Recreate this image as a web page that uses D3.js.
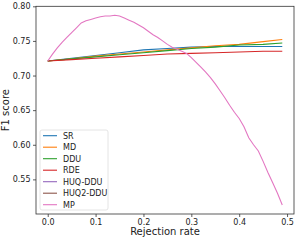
<!DOCTYPE html>
<html>
<head>
<meta charset="utf-8">
<script src="https://cdn.jsdelivr.net/npm/d3@7"></script>
<style>
  body { margin: 0; background: #fff; }
  svg { display: block; font-family: "DejaVu Sans", sans-serif; }
</style>
</head>
<body>
<svg id="chart"></svg>
<script>
// rejection rates for MP (every 0.01)
var ratesFine = [0.00,0.01,0.02,0.03,0.04,0.05,0.06,0.07,0.08,0.09,
                 0.10,0.11,0.12,0.13,0.14,0.15,0.16,0.17,0.18,0.19,
                 0.20,0.21,0.22,0.23,0.24,0.25,0.26,0.27,0.28,0.29,
                 0.30,0.31,0.32,0.33,0.34,0.35,0.36,0.37,0.38,0.39,
                 0.40,0.41,0.42,0.43,0.44,0.45,0.46,0.47,0.48,0.49];
// rejection rates read for the flat curves
var ratesCoarse = [0.00,0.05,0.10,0.15,0.20,0.25,0.30,0.35,0.40,0.45,0.49];

var srValues  = [0.721,0.725,0.729,0.733,0.737,0.739,0.741,0.742,0.742,0.742,0.742];
var mdValues  = [0.721,0.724,0.728,0.731,0.734,0.737,0.740,0.743,0.745,0.749,0.752];
var dduValues = [0.721,0.724,0.727,0.730,0.733,0.736,0.739,0.741,0.744,0.745,0.747];
var rdeValues = [0.721,0.723,0.725,0.727,0.729,0.731,0.732,0.733,0.734,0.735,0.735];
var huqDduValues = [];
var huq2DduValues = [];
var mpValues  = [0.721,0.731,0.740,0.748,0.755,0.762,0.769,0.776,0.779,0.781,
                 0.783,0.785,0.786,0.786,0.787,0.786,0.783,0.780,0.777,0.773,
                 0.769,0.764,0.759,0.755,0.750,0.745,0.741,0.738,0.735,0.732,
                 0.726,0.719,0.712,0.705,0.697,0.688,0.678,0.668,0.657,0.647,
                 0.638,0.626,0.610,0.600,0.591,0.576,0.560,0.545,0.530,0.513];

var seriesNames = ["SR","MD","DDU","RDE","HUQ-DDU","HUQ2-DDU","MP"];
var seriesColors = ["#1f77b4","#ff7f0e","#2ca02c","#d62728","#9467bd","#8c564b","#e377c2"];

var xTicks = [0.0,0.1,0.2,0.3,0.4,0.5];
var yTicks = [0.55,0.60,0.65,0.70,0.75,0.80];

var width = 300, height = 240;
var margin = {left: 36, right: 6, top: 6.3, bottom: 26};

var svg = d3.select("#chart").attr("width", width).attr("height", height);

var x = d3.scaleLinear().domain([-0.0245, 0.5145]).range([margin.left, width - margin.right]);
var y = d3.scaleLinear().domain([0.5, 0.8]).range([height - margin.bottom, margin.top]);

function zip(xs, ys) { return ys.map(function(v, i) { return [xs[i], v]; }); }

var series = [
  {name: "SR", pts: zip(ratesCoarse, srValues)},
  {name: "MD", pts: zip(ratesCoarse, mdValues)},
  {name: "DDU", pts: zip(ratesCoarse, dduValues)},
  {name: "RDE", pts: zip(ratesCoarse, rdeValues)},
  {name: "HUQ-DDU", pts: zip(ratesCoarse, huqDduValues)},
  {name: "HUQ2-DDU", pts: zip(ratesCoarse, huq2DduValues)},
  {name: "MP", pts: zip(ratesFine, mpValues)}
];

var color = d3.scaleOrdinal().domain(seriesNames).range(seriesColors);

var line = d3.line()
  .x(function(d) { return x(d[0]); })
  .y(function(d) { return y(d[1]); });

svg.append("g").selectAll("path")
  .data(series.filter(function(s) { return s.pts.length; }))
  .enter().append("path")
    .attr("fill", "none")
    .attr("stroke", function(d) { return color(d.name); })
    .attr("stroke-width", 1.1)
    .attr("d", function(d) { return line(d.pts); });

// axes
var xAxis = svg.append("g")
  .attr("transform", "translate(0," + (height - margin.bottom) + ")")
  .call(d3.axisBottom(x).tickValues(xTicks).tickFormat(d3.format(".1f")).tickSize(3).tickPadding(2.5));
var yAxis = svg.append("g")
  .attr("transform", "translate(" + margin.left + ",0)")
  .call(d3.axisLeft(y).tickValues(yTicks).tickFormat(d3.format(".2f")).tickSize(3).tickPadding(2.5));

[xAxis, yAxis].forEach(function(g) {
  g.select(".domain").remove();
  g.selectAll("line").attr("stroke", "#333").attr("stroke-width", 0.8);
  g.selectAll("text").attr("font-size", 8).attr("fill", "#222").attr("font-family", "DejaVu Sans");
});

// spines
svg.append("rect")
  .attr("x", margin.left).attr("y", margin.top)
  .attr("width", width - margin.right - margin.left)
  .attr("height", height - margin.bottom - margin.top)
  .attr("fill", "none").attr("stroke", "#333").attr("stroke-width", 0.8);

svg.append("text")
  .attr("x", (margin.left + width - margin.right) / 2)
  .attr("y", 235)
  .attr("text-anchor", "middle")
  .attr("font-size", 10)
  .attr("fill", "#222")
  .text("Rejection rate");

svg.append("text")
  .attr("transform", "translate(9," + ((margin.top + height - margin.bottom) / 2) + ") rotate(-90)")
  .attr("text-anchor", "middle")
  .attr("font-size", 10)
  .attr("fill", "#222")
  .text("F1 score");

// legend
var legend = svg.append("g").attr("transform", "translate(40,130)");
legend.append("rect")
  .attr("width", 68).attr("height", 80).attr("rx", 2)
  .attr("fill", "#fff").attr("fill-opacity", 0.8)
  .attr("stroke", "#ddd").attr("stroke-width", 0.8);

var item = legend.selectAll(".item")
  .data(seriesNames)
  .enter().append("g")
    .attr("class", "item")
    .attr("transform", function(d, i) { return "translate(0," + (5.7 + i * 11.5) + ")"; });
item.append("line")
  .attr("x1", 3).attr("x2", 17)
  .attr("stroke", function(d) { return color(d); })
  .attr("stroke-width", 1.1);
item.append("text")
  .attr("x", 23).attr("dy", "0.35em")
  .attr("font-size", 8).attr("fill", "#222")
  .text(function(d) { return d; });
</script>
</body>
</html>
